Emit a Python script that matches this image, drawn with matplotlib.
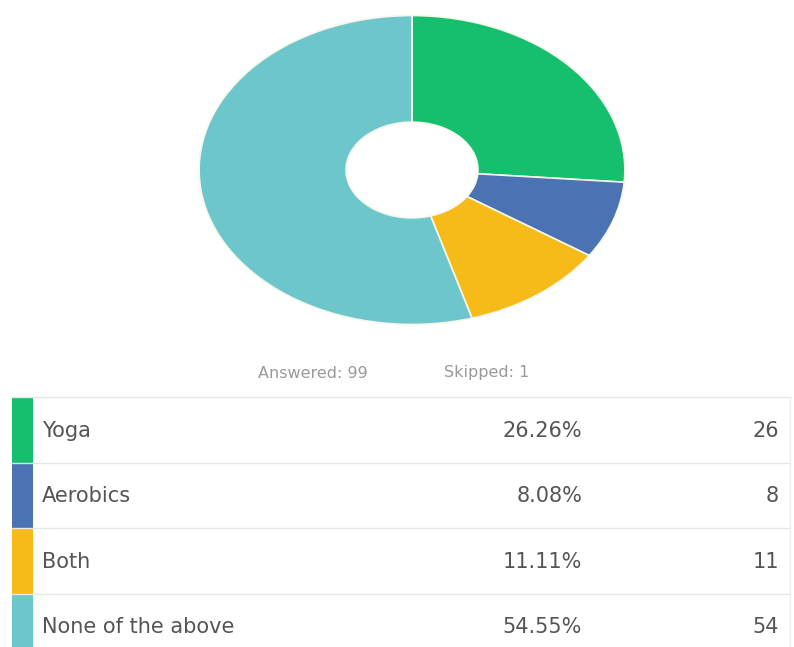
import matplotlib
matplotlib.use("Agg")
import matplotlib.pyplot as plt
from matplotlib.patches import Rectangle

categories = ["Yoga", "Aerobics", "Both", "None of the above"]
percents = [26.26, 8.08, 11.11, 54.55]
counts = [26, 8, 11, 54]
colors = ["#15BF6D", "#4B73B4", "#F6BA19", "#6CC6CB"]
answered = 99
skipped = 1

W, H = 794, 647
fig = plt.figure(figsize=(W / 100, H / 100), dpi=100)
fig.patch.set_facecolor("white")

# Donut (stretched ellipse as in the reference)
x0, x1, y0, y1 = 197, 627, 14, 326
ax = fig.add_axes([x0 / W, 1 - y1 / H, (x1 - x0) / W, (y1 - y0) / H])
ax.pie(percents, colors=colors, startangle=90, counterclock=False,
       wedgeprops=dict(width=0.69, edgecolor="#f4f8ea", linewidth=1.2))
ax.set_aspect("auto")
ax.set_xlim(-1.01, 1.01)
ax.set_ylim(-1.01, 1.01)
ax.axis("off")

# Table area in pixel coordinates
tab = fig.add_axes([0, 0, 1, 1])
tab.set_xlim(0, W)
tab.set_ylim(H, 0)
tab.axis("off")

txtc = "#9a9a9a"
tab.text(313, 373, f"Answered: {answered}", ha="center", va="center",
         fontsize=11.5, color=txtc)
tab.text(487, 373, f"Skipped: {skipped}", ha="center", va="center",
         fontsize=11.5, color=txtc)

row_top = 397
row_h = 65.5
tab.plot([12, 790], [row_top, row_top], color="#e6e6e6", lw=1)
for i, (cat, p, c, col) in enumerate(zip(categories, percents, counts, colors)):
    top = row_top + i * row_h
    bottom = top + row_h
    tab.add_patch(Rectangle((12, top), 21, row_h, color=col, lw=0))
    if i < len(categories) - 1:
        tab.plot([12, 790], [bottom, bottom], color="#e6e6e6", lw=1)
    yc = top + row_h / 2 + 1
    tab.text(42, yc, cat, ha="left", va="center", fontsize=15, color="#555555")
    tab.text(582, yc, f"{p:.2f}%", ha="right", va="center", fontsize=15,
             color="#555555")
    tab.text(779, yc, f"{c}", ha="right", va="center", fontsize=15,
             color="#555555")
tab.plot([790, 790], [row_top, H], color="#eeeeee", lw=1)

fig.savefig("out.png", dpi=100, facecolor="white")
